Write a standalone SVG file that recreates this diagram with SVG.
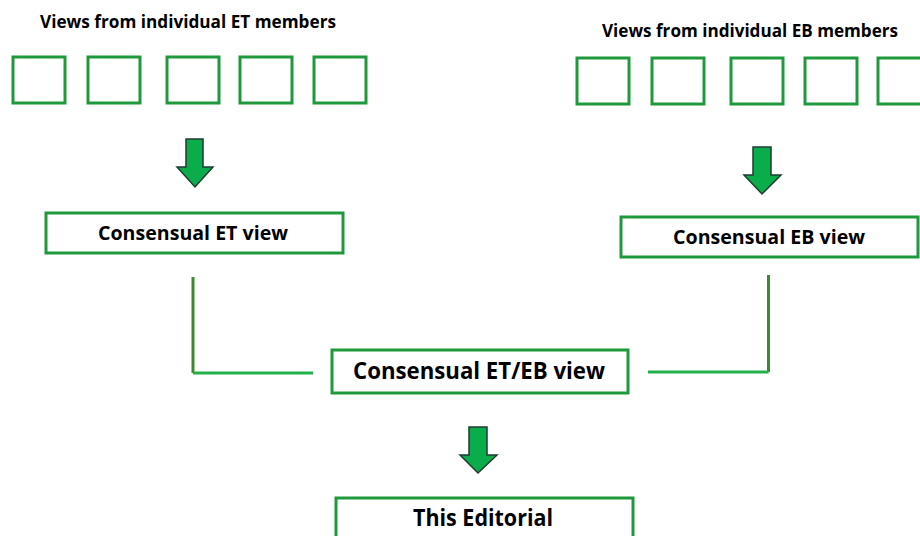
<svg xmlns="http://www.w3.org/2000/svg" width="920" height="536" viewBox="0 0 920 536">
  <style>
    .box { fill: #ffffff; stroke: #1e9a3c; stroke-width: 3; }
    .sq { fill: #ffffff; stroke: #1e9a3c; stroke-width: 3; }
    .arrow { fill: #0aad4a; stroke: #1f3b30; stroke-width: 1.5; stroke-linejoin: miter; }
    .lbl { font-family: "Open Sans", "Liberation Sans", Arial, sans-serif; font-weight: bold; fill: #000000; text-anchor: middle; }
    .vline { stroke: #3c8a2e; stroke-width: 3; fill: none; }
    .hline { stroke: #22b04a; stroke-width: 3; fill: none; }
  </style>
  <rect width="920" height="536" fill="#ffffff"/>

  <g id="et-members">
    <text class="lbl" x="188" y="28" font-size="17" textLength="296" lengthAdjust="spacingAndGlyphs">Views from individual ET members</text>
    <rect class="sq" x="13" y="57" width="52" height="46"/>
    <rect class="sq" x="88" y="57" width="52" height="46"/>
    <rect class="sq" x="167" y="57" width="52" height="46"/>
    <rect class="sq" x="240" y="57" width="52" height="46"/>
    <rect class="sq" x="314" y="57" width="52" height="46"/>
  </g>

  <g id="eb-members">
    <text class="lbl" x="750" y="37" font-size="17" textLength="296" lengthAdjust="spacingAndGlyphs">Views from individual EB members</text>
    <rect class="sq" x="577" y="58" width="52" height="46"/>
    <rect class="sq" x="652" y="58" width="52" height="46"/>
    <rect class="sq" x="731" y="58" width="52" height="46"/>
    <rect class="sq" x="805" y="58" width="52" height="46"/>
    <rect class="sq" x="878" y="58" width="52" height="46"/>
  </g>

  <g id="arrow-et">
    <polygon class="arrow" points="186,139 203,139 203,167 213,167 195,187 177,167 186,167"/>
  </g>
  <g id="arrow-eb">
    <polygon class="arrow" points="753,147 771,147 771,175 781,175 762,194 744,175 753,175"/>
  </g>

  <g id="consensual-et">
    <rect class="box" x="46" y="213" width="297" height="40"/>
    <text class="lbl" x="193" y="240" font-size="19.5" textLength="190" lengthAdjust="spacingAndGlyphs">Consensual ET view</text>
  </g>

  <g id="consensual-eb">
    <rect class="box" x="621" y="217" width="297" height="40"/>
    <text class="lbl" x="769" y="244" font-size="19.5" textLength="192" lengthAdjust="spacingAndGlyphs">Consensual EB view</text>
  </g>

  <g id="connectors">
    <path class="vline" d="M193,277 V373"/>
    <path class="hline" d="M193,373 H313"/>
    <path class="vline" d="M768.5,275 V372"/>
    <path class="hline" d="M648,372 H768.5"/>
  </g>

  <g id="consensual-et-eb">
    <rect class="box" x="332" y="350" width="296" height="43"/>
    <text class="lbl" x="479" y="379" font-size="22.5" textLength="252" lengthAdjust="spacingAndGlyphs">Consensual ET/EB view</text>
  </g>

  <g id="arrow-final">
    <polygon class="arrow" points="469,427 487,427 487,455 497,455 478,473 460,455 469,455"/>
  </g>

  <g id="editorial">
    <rect class="box" x="336" y="498" width="297" height="50"/>
    <text class="lbl" x="483" y="526" font-size="23.5" textLength="140" lengthAdjust="spacingAndGlyphs">This Editorial</text>
  </g>
</svg>
